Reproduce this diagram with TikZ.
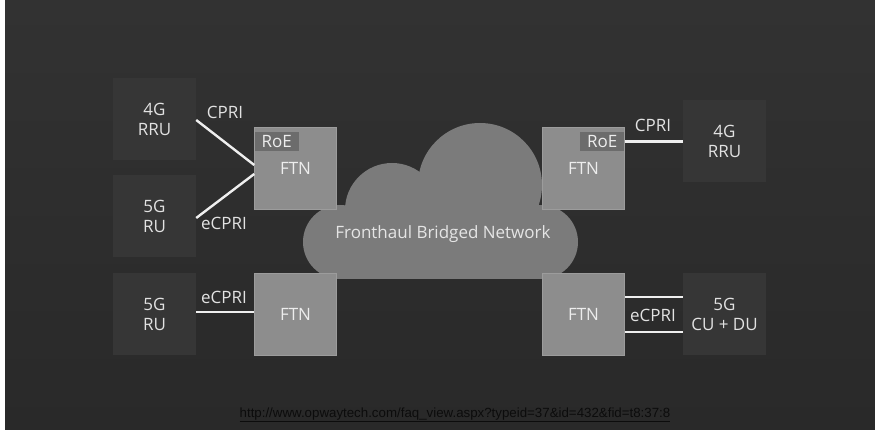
\documentclass[tikz,border=0pt]{standalone}
\usepackage{fontspec}
\setmainfont{Open Sans}
\newfontfamily\urlfont{Liberation Sans}
\usetikzlibrary{calc}
\definecolor{bgtop}{HTML}{323232}
\definecolor{bgbot}{HTML}{292929}
\definecolor{dbox}{HTML}{363636}
\definecolor{ftnc}{HTML}{8D8D8D}
\definecolor{ftnedge}{HTML}{9C9C9C}
\definecolor{roec}{HTML}{6C6C6C}
\definecolor{cloudc}{HTML}{7B7B7B}
\definecolor{ltext}{HTML}{E2E2E2}
\definecolor{linec}{HTML}{EFEFEF}
\definecolor{urlc}{HTML}{0C0C0C}
\begin{document}
\begin{tikzpicture}[x=1pt,y=-1pt,
  lab/.style={font=\fontsize{17}{20}\selectfont, text=ltext, align=center},
  darkbox/.style={lab, fill=dbox, minimum width=83pt, minimum height=82pt, inner sep=0pt},
  ftnbox/.style={lab, text=white!93!black, fill=ftnc, draw=ftnedge, line width=0.6pt, minimum width=82pt, minimum height=82pt, inner sep=0pt},
  roebox/.style={lab, text=white!93!black, fill=roec, minimum width=44pt, minimum height=19pt, inner sep=0pt},
  conn/.style={draw=linec, line width=2.4pt},
  cloudpart/.style={fill=cloudc}
]
\useasboundingbox (0,0) rectangle (875,430);
% background
\fill[white] (0,0) rectangle (875,430);
\shade[top color=bgtop, bottom color=bgbot] (5,1) rectangle (875,430);

% cloud
\fill[cloudpart] (340,242) circle[radius=37];
\fill[cloudpart] (541,242) circle[radius=37];
\fill[cloudpart] (392,210) circle[radius=47];
\fill[cloudpart] (480,185) circle[radius=62];
\fill[cloudpart] (340,215) rectangle (541,279);
\node[lab, text=white!90!black] (cloudtxt) at (443,234) {Fronthaul Bridged Network};

% boxes
\node[darkbox] (rruL) at (154.5,119) {4G\\RRU};
\node[darkbox] (ruL) at (154.5,216) {5G\\RU};
\node[ftnbox] (ftnA) at (295.5,168) {FTN};
\node[roebox, anchor=north west] (roeA) at (254.5,132) {RoE};

\node[ftnbox] (ftnB) at (583.5,168) {FTN};
\node[roebox, anchor=north east] (roeB) at (624.5,132) {RoE};
\node[darkbox] (rruR) at (724.5,141.5) {4G\\RRU};

\node[darkbox] (ruB) at (154.5,314) {5G\\RU};
\node[ftnbox] (ftnC) at (295.5,314.5) {FTN};
\node[ftnbox] (ftnD) at (583.5,314.5) {FTN};
\node[darkbox] (cudu) at (724.5,314) {5G\\CU + DU};

% connectors
\coordinate (pA1) at ($(ftnA.west)+(0,-3)$);
\coordinate (pA2) at ($(ftnA.west)+(0,6)$);
\draw[conn] ($(rruL.east)+(0,1)$) -- (pA1);
\draw[conn] ($(ruL.east)+(0,2)$) -- (pA2);
\draw[conn] (roeB.east) -- (roeB.east -| rruR.west);
\draw[conn] ($(ruB.east)+(0,-2)$) -- ($(ftnC.west)+(0,-2.5)$);
\draw[conn] ($(ftnD.east)+(0,-17.5)$) -- ($(cudu.west)+(0,-17)$);
\draw[conn] ($(ftnD.east)+(0,17.5)$) -- ($(cudu.west)+(0,18)$);

% labels
\node[lab] (l1) at (225,112) {CPRI};
\node[lab] (l2) at (224,223) {eCPRI};
\node[lab] (l3) at (224,297) {eCPRI};
\node[lab] (l4) at (653,125) {CPRI};
\node[lab] (l5) at (653,315) {eCPRI};

% url
\node[text=urlc, font=\urlfont\fontsize{13.3}{15}\selectfont] (url) at (455,415) {\underline{http://www.opwaytech.com/faq\_view.aspx?typeid=37\&id=432\&fid=t8:37:8}};
\end{tikzpicture}
\end{document}
